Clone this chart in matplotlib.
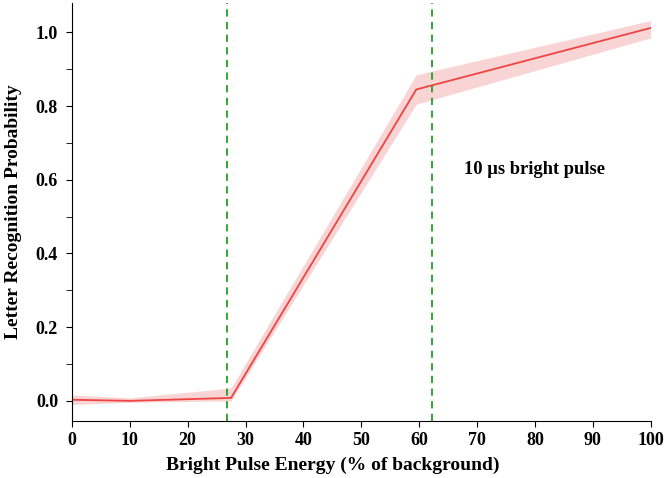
import matplotlib
matplotlib.use("Agg")
import matplotlib.pyplot as plt
import numpy as np

plt.rcParams['font.family'] = ['Liberation Serif', 'DejaVu Serif']

energy = [0, 10, 27.5, 59.5, 100]
prob = [0.003, 0.0, 0.008, 0.845, 1.012]
band_low = [-0.010, -0.004, 0.000, 0.805, 0.985]
band_high = [0.016, 0.008, 0.035, 0.885, 1.032]
threshold_lines = [26.8, 62.3]
annotation = "10 µs bright pulse"

fig = plt.figure(figsize=(6.66, 4.78), dpi=100)
ax = fig.add_axes([0.108, 0.119, 0.869, 0.875])

ax.fill_between(energy, band_low, band_high, color='#f4b8b8', alpha=0.6, linewidth=0)
ax.plot(energy, prob, color='#ee4444', linewidth=1.3)
for xv in threshold_lines:
    ax.axvline(xv, color='#22a022', linestyle=(0, (4, 3)), linewidth=1.3)

ax.text(80, 0.628, annotation, ha='center', va='center', fontsize=13.3, fontweight='bold')

ax.set_xlim(0, 100)
ax.set_ylim(-0.055, 1.08)
ax.set_xticks(np.arange(0, 101, 10))
ax.set_yticks(np.arange(0, 1.01, 0.2))
ax.set_yticks(np.arange(0, 1.01, 0.1), minor=True)
ax.tick_params(axis='both', which='major', labelsize=13, direction='out', length=4)
ax.tick_params(axis='y', which='major', pad=6)
ax.tick_params(axis='y', which='minor', direction='out', length=4)
for lab in ax.get_xticklabels() + ax.get_yticklabels():
    lab.set_fontweight('bold')
ax.yaxis.set_major_formatter(matplotlib.ticker.FormatStrFormatter('%.1f'))

ax.spines['top'].set_visible(False)
ax.spines['right'].set_visible(False)
ax.set_xlabel('Bright Pulse Energy (% of background)', fontsize=14, fontweight='bold')
ax.xaxis.set_label_coords(0.45, -0.085)
ax.set_ylabel('Letter Recognition Probability', fontsize=14, fontweight='bold', labelpad=10)

fig.savefig('out.png', dpi=100)
